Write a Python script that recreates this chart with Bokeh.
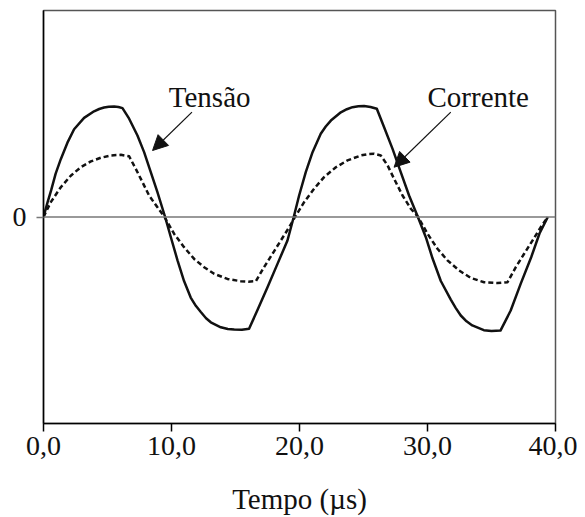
from bokeh.plotting import figure
from bokeh.models import Range1d, FixedTicker, Span, Label, Arrow, NormalHead
from bokeh.embed import file_html
from bokeh.resources import INLINE

# ---- data ----
t_tensao = [0.0, 0.31, 0.6, 0.95, 1.35, 1.87, 2.39, 3.17, 3.95, 4.35, 4.73, 5.1, 5.52, 5.85, 6.17, 6.69, 7.34,
            7.86, 8.38, 8.9, 9.5,
            9.95, 10.47, 10.98, 11.5, 11.9, 12.29, 12.7, 13.07, 13.85, 14.4, 14.9, 15.5, 16.06, 16.7, 17.5,
            18.28, 19.06, 19.55,
            19.97, 20.49, 21.02, 21.66, 22.05, 22.45, 23.23, 23.7, 24.14, 24.6, 25.05, 25.55, 26.04, 26.61,
            27.27, 27.91, 28.56, 29.25,
            29.87, 30.39, 31.04, 31.82, 32.2, 32.6, 33.05, 33.5, 34.4, 35.0, 35.7, 36.5, 37.3, 38.1, 38.75, 39.4]
v_tensao = [0.0, 0.07, 0.13, 0.21, 0.28, 0.36, 0.425, 0.48, 0.512, 0.523, 0.53, 0.534, 0.535, 0.533, 0.527, 0.476,
            0.395, 0.314, 0.217, 0.12, 0.0,
            -0.098, -0.21, -0.31, -0.39, -0.43, -0.46, -0.49, -0.51, -0.534, -0.542, -0.545, -0.546, -0.541,
            -0.453, -0.34, -0.227, -0.114, 0.0,
            0.104, 0.217, 0.314, 0.403, 0.438, 0.467, 0.507, 0.522, 0.532, 0.536, 0.537, 0.533, 0.524, 0.435,
            0.33, 0.217, 0.104, 0.0,
            -0.098, -0.2, -0.31, -0.40, -0.44, -0.477, -0.505, -0.525, -0.548, -0.552, -0.55, -0.453, -0.32,
            -0.195, -0.08, 0.0]

t_corrente = [0.0, 0.57, 1.35, 2.13, 2.91, 3.7, 4.48, 5.26, 6.04, 6.69, 7.21, 7.73, 8.25, 8.9, 9.45,
              10.2, 10.98, 11.77, 12.55, 13.33, 14.37, 15.41, 16.0, 16.59, 17.23, 17.89, 18.54, 19.19, 19.65,
              20.36, 21.14, 21.92, 22.84, 23.75, 24.79, 25.3, 25.83, 26.35, 26.88, 27.39, 28.05, 28.7, 29.27,
              30.0, 30.78, 31.56, 32.47, 33.38, 34.42, 35.47, 36.25, 36.9, 37.55, 38.2, 38.84, 39.4]
v_corrente = [0.0, 0.072, 0.144, 0.2, 0.241, 0.269, 0.287, 0.298, 0.301, 0.294, 0.233, 0.169, 0.104, 0.047, 0.0,
              -0.081, -0.146, -0.203, -0.243, -0.275, -0.3, -0.311, -0.313, -0.311, -0.243, -0.178, -0.114,
              -0.05, 0.0,
              0.072, 0.137, 0.193, 0.241, 0.274, 0.298, 0.304, 0.306, 0.298, 0.25, 0.185, 0.104, 0.04, 0.0,
              -0.081, -0.154, -0.21, -0.259, -0.295, -0.316, -0.32, -0.316, -0.243, -0.178, -0.114, -0.05, 0.0]

x_ticks = [0, 10, 20, 30, 40]
x_tick_labels = ["0,0", "10,0", "20,0", "30,0", "40,0"]
y_ticks = [0]
y_tick_labels = ["0"]
x_title = "Tempo (µs)"
label_tensao = "Tensão"
label_corrente = "Corrente"

FONT = "Liberation Serif"

p = figure(frame_width=512, frame_height=413,
           x_range=Range1d(0, 40), y_range=Range1d(-1, 1),
           output_backend="svg", toolbar_location=None,
           min_border_left=43, min_border_top=10, min_border_right=22, min_border_bottom=80)

p.background_fill_color = "white"
p.border_fill_color = "white"
p.outline_line_color = "#555555"
p.outline_line_width = 1.5
p.xgrid.visible = False
p.ygrid.visible = False

# x axis
xa = p.xaxis[0]
xa.ticker = FixedTicker(ticks=x_ticks)
xa.major_label_overrides = {t: l for t, l in zip(x_ticks, x_tick_labels)}
xa.minor_tick_line_color = None
xa.major_tick_out = 8
xa.major_tick_in = 0
xa.major_tick_line_width = 1.5
xa.major_tick_line_color = "black"
xa.axis_line_color = "black"
xa.axis_line_width = 1.5
xa.major_label_text_font = FONT
xa.major_label_text_font_size = "28px"
xa.major_label_text_color = "#111111"
xa.major_label_standoff = 5
xa.axis_label = x_title
xa.axis_label_text_font = FONT
xa.axis_label_text_font_size = "29px"
xa.axis_label_text_font_style = "normal"
xa.axis_label_text_color = "#111111"
xa.axis_label_standoff = 25

# y axis
ya = p.yaxis[0]
ya.ticker = FixedTicker(ticks=y_ticks)
ya.major_label_overrides = {t: l for t, l in zip(y_ticks, y_tick_labels)}
ya.minor_tick_line_color = None
ya.major_tick_out = 7
ya.major_tick_in = 0
ya.major_tick_line_color = "#777777"
ya.major_tick_line_width = 1.5
ya.axis_line_color = "black"
ya.axis_line_width = 1.5
ya.major_label_text_font = FONT
ya.major_label_text_font_size = "28px"
ya.major_label_text_color = "#111111"
ya.major_label_standoff = 10

# zero line
p.add_layout(Span(location=0, dimension="width", line_color="#777777", line_width=1.5))

# curves
p.line(t_corrente, v_corrente, line_color="#111111", line_width=2.5, line_dash="5 3", line_join="round")
p.line(t_tensao, v_tensao, line_color="#111111", line_width=2.5, line_join="round")

# annotations
p.add_layout(Label(x=9.79, y=0.579, text=label_tensao, text_font=FONT, text_font_size="29px",
                   text_color="#111111", text_baseline="alphabetic", text_align="left"))
p.add_layout(Label(x=30.0, y=0.579, text=label_corrente, text_font=FONT, text_font_size="29px",
                   text_color="#111111", text_baseline="alphabetic", text_align="left"))
p.add_layout(Arrow(x_start=11.6, y_start=0.508, x_end=8.52, y_end=0.322, line_width=1.2,
                   line_color="#111111",
                   end=NormalHead(size=15, fill_color="#111111", line_color="#111111", line_width=1)))
p.add_layout(Arrow(x_start=31.82, y_start=0.508, x_end=27.39, y_end=0.241, line_width=1.2,
                   line_color="#111111",
                   end=NormalHead(size=15, fill_color="#111111", line_color="#111111", line_width=1)))

open("out.html", "w").write(file_html(p, INLINE))
